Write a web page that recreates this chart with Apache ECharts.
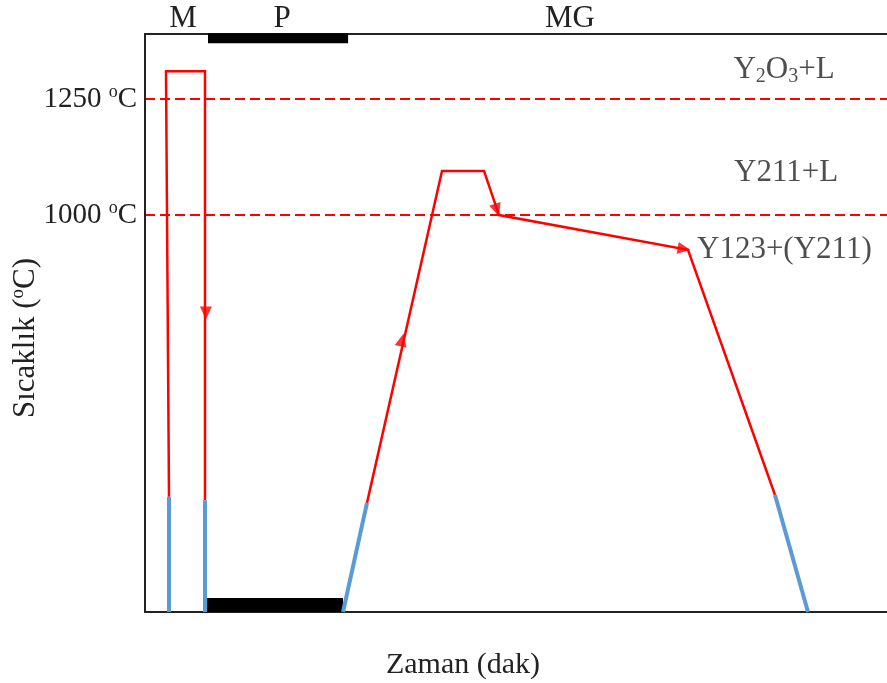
<!DOCTYPE html>
<html>
<head>
<meta charset="utf-8">
<script src="https://cdn.jsdelivr.net/npm/echarts@6/dist/echarts.min.js"></script>
<style>
  html, body { margin: 0; padding: 0; background: #fff; overflow: hidden; }
  #chart { width: 887px; height: 683px; }
</style>
</head>
<body>
<div id="chart"></div>
<script>
// Heat-treatment profile: time (arbitrary minutes) vs temperature (°C)
// M = melting, P = pressing, MG = melt growth
const meltPath = [[8, 393], [7, 1310], [20, 1310], [20, 386]];
const growthPath = [[74, 380], [99, 1095], [113, 1095], [118, 1000], [181, 925], [210, 397]];
// low-temperature legs of each stage
const coolSegments = [
  [[8, 145], [8, 393]],
  [[20, 145], [20, 386]],
  [[66, 145], [74, 380]],
  [[210, 397], [221, 145]]
];
// pressing period, marked on the top and bottom edges
const pressTop = [[21, 1381], [67.7, 1381]];
const pressBottom = [[20.7, 160], [66, 160]];
// phase boundaries
const phaseLines = [1250, 1000];
// direction arrows along the profile
const arrowPoints = [[20.3, 789], [85.7, 731], [117.3, 1011], [179.7, 927]];
const arrowAngles = [180, -13, 198, 260];
// phase-field labels
const fieldLabels = ['{t|Y}{s|2}{t|O}{s|3}{t|+L}', '{t|Y211+L}', '{t|Y123+(Y211)}'];
const fieldLabelAt = [[213, 1312], [213.7, 1090], [181, 925]];
const stageNames = ['M', 'P', 'MG'];

// axis ranges
const T_MIN = 0, T_MAX = 250;
const TEMP_MIN = 145, TEMP_MAX = 1390;

const SERIF = '"Liberation Serif", "DejaVu Serif", serif';
const TXT = '#222';
const RED = '#ff0000';
const BLUE = '#5b9bd5';
const FS = 30;

const chart = echarts.init(document.getElementById('chart'));

const degRich = {
  n: { fontFamily: SERIF, fontSize: 29, color: TXT, lineHeight: 32 },
  o: { fontFamily: SERIF, fontSize: 18, color: TXT, lineHeight: 18, verticalAlign: 'top' }
};
const fieldRich = {
  t: { fontFamily: SERIF, fontSize: 31, color: TXT, lineHeight: 34 },
  s: { fontFamily: SERIF, fontSize: 20, color: TXT, lineHeight: 20, verticalAlign: 'bottom' }
};

const frameLine = { show: true, onZero: false, lineStyle: { color: '#222', width: 2 } };

const series = [];

// phase boundary lines
series.push({
  type: 'line', data: [], silent: true,
  markLine: {
    silent: true, symbol: 'none',
    label: { show: false },
    lineStyle: { color: RED, type: [10, 5], width: 2 },
    data: phaseLines.map(v => ({ yAxis: v }))
  }
});

// pressing bars
series.push({
  type: 'line', data: pressTop, symbol: 'none', clip: false, silent: true,
  lineStyle: { color: '#000', width: 10, cap: 'butt' }, z: 4
});
series.push({
  type: 'line', data: pressBottom, symbol: 'none', clip: false, silent: true,
  lineStyle: { color: '#000', width: 14, cap: 'butt' }, z: 4
});

// red temperature paths
[meltPath, growthPath].forEach(path => {
  series.push({
    type: 'line', data: path, symbol: 'none', silent: true,
    lineStyle: { color: RED, width: 2.5, join: 'miter' }, z: 3
  });
});

// blue low-temperature legs
coolSegments.forEach(seg => {
  series.push({
    type: 'line', data: seg, symbol: 'none', silent: true, clip: false,
    lineStyle: { color: BLUE, width: 4, cap: 'butt' }, z: 5
  });
});

// arrows
series.push({
  type: 'scatter', silent: true, symbol: 'triangle', symbolSize: [12, 13],
  itemStyle: { color: RED },
  data: arrowPoints.map((p, i) => ({ value: p, symbolRotate: arrowAngles[i] })),
  z: 6
});

// phase-field labels
series.push({
  type: 'scatter', silent: true, symbolSize: 0,
  data: fieldLabelAt.map((p, i) => ({
    value: p,
    label: i === 2
      ? { show: true, position: 'right', distance: 9, formatter: fieldLabels[i], rich: fieldRich }
      : { show: true, position: 'inside', formatter: fieldLabels[i], rich: fieldRich }
  })),
  z: 7
});

const stageX = [183, 282, 570];

chart.setOption({
  animation: false,
  backgroundColor: '#fff',
  grid: {
    left: 145, top: 34, width: 750, bottom: 71,
    outerBoundsMode: 'none', show: false
  },
  xAxis: [
    {
      type: 'value', min: T_MIN, max: T_MAX, position: 'bottom',
      axisLine: frameLine, axisTick: { show: false },
      axisLabel: { show: false }, splitLine: { show: false },
      name: 'Zaman (dak)', nameLocation: 'middle', nameGap: 38,
      nameTextStyle: { fontFamily: SERIF, fontSize: FS, color: TXT, padding: [0, 114, 0, 0] }
    },
    {
      type: 'value', min: T_MIN, max: T_MAX, position: 'top',
      axisLine: frameLine, axisTick: { show: false },
      axisLabel: { show: false }, splitLine: { show: false }
    }
  ],
  yAxis: {
    type: 'value', min: TEMP_MIN, max: TEMP_MAX, position: 'left',
    axisLine: { show: false }, axisTick: { show: false }, splitLine: { show: false },
    axisLabel: {
      customValues: phaseLines, margin: 8,
      formatter: v => `{n|${v} }{o|o}{n|C}`,
      rich: degRich
    }
  },
  graphic: [
    ...stageNames.map((s, i) => ({
      id: 'stage' + i, type: 'text', x: stageX[i], y: 19,
      style: { text: s, fontFamily: SERIF, fontSize: 31, fill: TXT, align: 'center', verticalAlign: 'middle' }
    })),
    {
      id: 'yTitle', type: 'text', x: 26, y: 338, rotation: Math.PI / 2,
      style: {
        text: '{n|Sıcaklık (}{o|o}{n|C)}', align: 'center', verticalAlign: 'middle',
        rich: {
          n: { fontFamily: SERIF, fontSize: 31, fill: TXT, lineHeight: 34 },
          o: { fontFamily: SERIF, fontSize: 19, fill: TXT, lineHeight: 19, verticalAlign: 'top' }
        }
      }
    }
  ],
  series
});

// left edge of the frame at t = 0, placed through the axis scales
const edgeBottom = chart.convertToPixel({ gridIndex: 0 }, [T_MIN, TEMP_MIN]);
const edgeTop = chart.convertToPixel({ gridIndex: 0 }, [T_MIN, TEMP_MAX]);
chart.setOption({
  graphic: [{
    id: 'frameLeft', type: 'line', z: 10, silent: true,
    shape: { x1: edgeTop[0], y1: edgeTop[1] - 1, x2: edgeBottom[0], y2: edgeBottom[1] + 1 },
    style: { stroke: '#222', lineWidth: 2 }
  }]
});
</script>
</body>
</html>
